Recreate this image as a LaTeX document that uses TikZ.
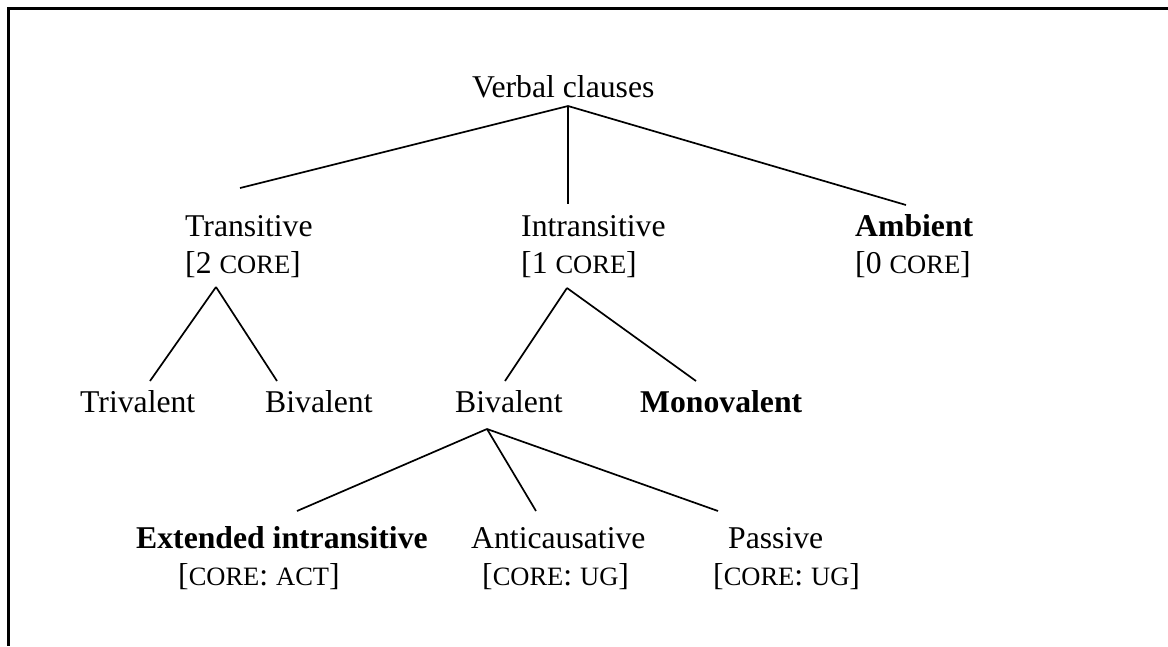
\documentclass[tikz,border=0pt]{standalone}
\usepackage{fontspec}
\setmainfont{Liberation Serif}
% lower-case letters set as small capitals, Word style
\newcommand\smallcapsword[1]{{\fontsize{26.5pt}{30pt}\selectfont #1}}
\begin{document}
\begin{tikzpicture}[x=1pt,y=-1pt,
  lbl/.style={anchor=base west,inner sep=0pt,font=\fontsize{31.7pt}{38pt}\selectfont},
  boldlbl/.style={lbl,font=\fontsize{31.7pt}{38pt}\selectfont\bfseries},
  branch/.style={line width=1.7pt},
  frameline/.style={line width=3pt}]
\useasboundingbox (0,0) rectangle (1168,646);

% open frame: top and left edges only
\coordinate (frTR) at (1168,8.5);
\coordinate (frTL) at (7,8.5);
\coordinate (frBL) at (8.5,646);
\draw[frameline] (frTR) -- (frTL);
\draw[frameline] (8.5,7) -- (frBL);

% labels
\node[lbl] (root) at (472,97) {Verbal clauses};

\node[lbl] (trans) at (185,236) {Transitive};
\node[lbl] (transc) at (185,273) {[2 \smallcapsword{CORE}]};
\node[lbl] (intr) at (521,236) {Intransitive};
\node[lbl] (intrc) at (521,273) {[1 \smallcapsword{CORE}]};
\node[boldlbl] (amb) at (855,236) {Ambient};
\node[lbl] (ambc) at (855,273) {[0 \smallcapsword{CORE}]};

\node[lbl] (triv) at (80,412) {Trivalent};
\node[lbl] (biv) at (265,412) {Bivalent};
\node[lbl] (biv2) at (455,412) {Bivalent};
\node[boldlbl] (mono) at (640,412) {Monovalent};

\node[boldlbl] (ext) at (136,548) {Extended intransitive};
\node[lbl] (extc) at (178,585) {[\smallcapsword{CORE}: \smallcapsword{ACT}]};
\node[lbl] (anti) at (471,548) {Anticausative};
\node[lbl] (antic) at (482,585) {[\smallcapsword{CORE}: \smallcapsword{UG}]};
\node[lbl] (pass) at (728,548) {Passive};
\node[lbl] (passc) at (713,585) {[\smallcapsword{CORE}: \smallcapsword{UG}]};

% branch points
\coordinate (rootJ) at (568,106);
\coordinate (transT) at (240,188);
\coordinate (intrT) at (568,204);
\coordinate (ambT) at (906,205);

\coordinate (transJ) at (216,287);
\coordinate (trivT) at (150,381);
\coordinate (bivT) at (277,381);

\coordinate (intrJ) at (567,288);
\coordinate (biv2T) at (505,381);
\coordinate (monoT) at (696,381);

\coordinate (biv2J) at (487,429);
\coordinate (extT) at (297,511);
\coordinate (antiT) at (536,511);
\coordinate (passT) at (718,511);

% tree branches
\draw[branch] (rootJ) -- (transT);
\draw[branch] (rootJ) -- (intrT);
\draw[branch] (rootJ) -- (ambT);

\draw[branch] (transJ) -- (trivT);
\draw[branch] (transJ) -- (bivT);

\draw[branch] (intrJ) -- (biv2T);
\draw[branch] (intrJ) -- (monoT);

\draw[branch] (biv2J) -- (extT);
\draw[branch] (biv2J) -- (antiT);
\draw[branch] (biv2J) -- (passT);
\end{tikzpicture}
\end{document}
